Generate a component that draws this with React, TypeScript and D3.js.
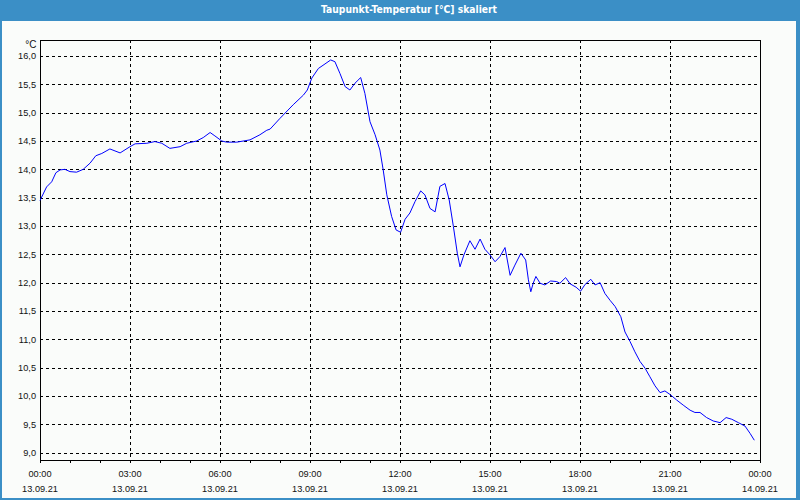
import React from "react";
import * as d3 from "d3";

const TITLE = "Taupunkt-Temperatur [°C] skaliert";
const UNIT = "°C";

// hours since 13.09.21 00:00
const hours = [
  0.0, 0.22, 0.39, 0.53, 0.67, 0.83, 1.0, 1.22, 1.44, 1.67, 1.86, 2.06, 2.33, 2.67,
  3.0, 3.17, 3.56, 3.83, 4.06, 4.33, 4.67, 4.89, 5.22, 5.44, 5.67, 5.83, 6.06, 6.22,
  6.56, 7.0, 7.33, 7.56, 7.67, 8.0, 8.44, 8.78, 8.91, 9.06, 9.28, 9.5, 9.69, 9.83,
  10.0, 10.17, 10.33, 10.5, 10.69, 10.83, 11.0, 11.17, 11.33, 11.44, 11.56, 11.72,
  11.87, 12.02, 12.17, 12.33, 12.5, 12.69, 12.83, 13.0, 13.17, 13.33, 13.5, 13.64,
  13.78, 13.91, 14.0, 14.13, 14.33, 14.5, 14.67, 14.83, 15.0, 15.17, 15.33, 15.5,
  15.67, 15.83, 16.03, 16.19, 16.28, 16.36, 16.44, 16.53, 16.67, 16.83, 17.02, 17.22,
  17.33, 17.52, 17.67, 17.87, 18.02, 18.17, 18.36, 18.5, 18.67, 18.83, 19.0, 19.17,
  19.36, 19.5, 19.67, 19.83, 20.0, 20.17, 20.33, 20.5, 20.67, 20.83, 21.02, 21.22,
  21.44, 21.67, 21.83, 22.0, 22.22, 22.44, 22.67, 22.87, 23.06, 23.28, 23.5, 23.67,
  23.81,
];

const dewPoint = [
  13.45, 13.69, 13.78, 13.94, 13.99, 14.0, 13.96, 13.95, 14.0, 14.11, 14.24, 14.28, 14.36, 14.29,
  14.4, 14.45, 14.46, 14.49, 14.46, 14.37, 14.4, 14.46, 14.5, 14.56, 14.65, 14.59, 14.5, 14.48,
  14.48, 14.52, 14.61, 14.69, 14.71, 14.9, 15.14, 15.31, 15.4, 15.61, 15.78, 15.86, 15.93, 15.9,
  15.69, 15.46, 15.4, 15.52, 15.62, 15.34, 14.84, 14.61, 14.34, 13.99, 13.55, 13.17,
  12.93, 12.89, 13.12, 13.23, 13.43, 13.62, 13.55, 13.31, 13.25, 13.7, 13.75, 13.46,
  12.99, 12.52, 12.28, 12.49, 12.74, 12.59, 12.77, 12.59, 12.49, 12.37, 12.46, 12.62,
  12.13, 12.31, 12.52, 12.4, 12.05, 11.84, 11.99, 12.11, 11.99, 11.96, 12.03, 12.02,
  11.99, 12.09, 11.98, 11.92, 11.85, 11.97, 12.06, 11.96, 12.0, 11.81, 11.69, 11.58,
  11.4, 11.13, 10.96, 10.78, 10.61, 10.49, 10.34, 10.18, 10.06, 10.09, 10.02, 9.93,
  9.84, 9.75, 9.71, 9.71, 9.62, 9.56, 9.53, 9.62, 9.59, 9.53, 9.47, 9.34,
  9.22,
];

const yTicks = [9, 9.5, 10, 10.5, 11, 11.5, 12, 12.5, 13, 13.5, 14, 14.5, 15, 15.5, 16];
const xTickHours = [0, 3, 6, 9, 12, 15, 18, 21, 24];
const xTimeLabels = ["00:00", "03:00", "06:00", "09:00", "12:00", "15:00", "18:00", "21:00", "00:00"];
const xDateLabels = ["13.09.21", "13.09.21", "13.09.21", "13.09.21", "13.09.21", "13.09.21", "13.09.21", "13.09.21", "14.09.21"];

const W = 800;
const H = 500;
const plot = { left: 40, right: 760, top: 40, bottom: 460 };

const start = new Date(2021, 8, 13, 0, 0);
const toDate = (h: number) => new Date(start.getTime() + h * 3600 * 1000);

export default function App() {
  const x = d3.scaleTime().domain([toDate(0), toDate(24)]).range([plot.left, plot.right]);
  const y = d3.scaleLinear().domain([9, 16]).range([452.7, 56]);

  const pts = hours.map((h, i) => [x(toDate(h)), y(dewPoint[i])] as [number, number]);
  const path = d3.line().curve(d3.curveLinear)(pts) || "";

  const hourTicks = d3.range(0, 25).map((h) => x(toDate(h)));
  const fmt = (v: number) => v.toFixed(1).replace(".", ",");
  const labelFont = "'Liberation Sans', Arial, sans-serif";

  return (
    <>
      <style>{`body{margin:0;} #root{line-height:0;}`}</style>
      <svg width={W} height={H} style={{ display: "block" }}>
        <rect x={0} y={0} width={W} height={H} fill="#3b8fc6" />
        <rect x={2} y={21} width={794} height={477} fill="#fafcfa" />
        <text
          x={409}
          y={12.5}
          fill="#ffffff"
          fontFamily="'DejaVu Sans', sans-serif"
          fontSize={10.5}
          fontWeight="bold"
          textAnchor="middle"
          textLength={176}
          lengthAdjust="spacingAndGlyphs"
        >
          {TITLE}
        </text>

        <g shapeRendering="crispEdges">
          {yTicks.map((v) => (
            <line
              key={"h" + v}
              x1={plot.left}
              x2={plot.right}
              y1={Math.round(y(v)) + 0.5}
              y2={Math.round(y(v)) + 0.5}
              stroke="#000"
              strokeDasharray="3,3"
            />
          ))}
          {xTickHours.slice(1, -1).map((h) => (
            <line
              key={"v" + h}
              x1={Math.round(x(toDate(h))) + 0.5}
              x2={Math.round(x(toDate(h))) + 0.5}
              y1={plot.top}
              y2={plot.bottom}
              stroke="#000"
              strokeDasharray="3,3"
            />
          ))}
          <rect
            x={plot.left + 0.5}
            y={plot.top + 0.5}
            width={plot.right - plot.left}
            height={plot.bottom - plot.top}
            fill="none"
            stroke="#000"
          />
          {hourTicks.map((tx, i) => (
            <line
              key={"t" + i}
              x1={Math.round(tx) + 0.5}
              x2={Math.round(tx) + 0.5}
              y1={plot.bottom}
              y2={plot.bottom + 3}
              stroke="#000"
            />
          ))}
        </g>

        <g fontFamily={labelFont} fontSize={9.2} fill="#111">
          <text x={36.5} y={47.5} textAnchor="end" fontSize={10}>
            {UNIT}
          </text>
          {yTicks.map((v) => (
            <text key={"yl" + v} x={36} y={y(v) + 3.4} textAnchor="end">
              {fmt(v)}
            </text>
          ))}
          {xTickHours.map((h, i) => (
            <g key={"xl" + i}>
              <text x={x(toDate(h))} y={476.8} textAnchor="middle">
                {xTimeLabels[i]}
              </text>
              <text x={x(toDate(h))} y={491.8} textAnchor="middle">
                {xDateLabels[i]}
              </text>
            </g>
          ))}
        </g>

        <path d={path} fill="none" stroke="#0000ff" strokeWidth={1} />
      </svg>
    </>
  );
}
